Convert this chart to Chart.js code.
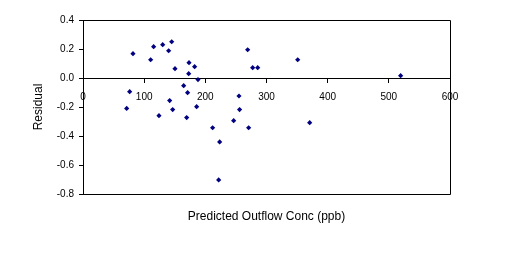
<!DOCTYPE html>
<html>
<head>
<meta charset="utf-8">
<title>Residual plot</title>
<script src="https://cdn.jsdelivr.net/npm/chart.js@4/dist/chart.umd.min.js"></script>
<style>
  html, body { margin: 0; padding: 0; background: #fff; }
  #residualChart { display: block; }
</style>
</head>
<body>
<canvas id="residualChart" width="511" height="257"></canvas>
<script>
// ===========================
// DATA
// ===========================
const predictedConc = [
  81.7, 115.5, 130.3, 145.0, 140.0, 110.6, 150.4, 173.3, 182.5, 172.8, 188.0,
  76.3, 71.4, 141.7, 146.6, 124.2, 164.6, 171.0, 169.5, 185.8,
  211.9, 246.3, 270.8, 255.0, 256.0, 269.2, 277.4, 285.6, 351.0, 370.6,
  519.3, 223.4, 221.8
];
const residuals = [
  0.168, 0.216, 0.23, 0.25, 0.188, 0.126, 0.064, 0.106, 0.078, 0.03, -0.011,
  -0.094, -0.21, -0.156, -0.218, -0.26, -0.053, -0.101, -0.273, -0.198,
  -0.343, -0.294, -0.343, -0.124, -0.218, 0.195, 0.071, 0.071, 0.126, -0.308,
  0.016, -0.441, -0.703
];
const xTicks = [0, 100, 200, 300, 400, 500, 600];
const yTicks = [-0.8, -0.6, -0.4, -0.2, 0.0, 0.2, 0.4];
const xTitle = 'Predicted Outflow Conc (ppb)';
const yTitle = 'Residual';

// ===========================
// PLOT FRAME (top / right / bottom lines)
// ===========================
const frame = {
  id: 'frame',
  afterDraw(chart) {
    const { ctx, chartArea: a } = chart;
    ctx.save();
    ctx.strokeStyle = '#000';
    ctx.lineWidth = 1;
    ctx.beginPath();
    ctx.moveTo(a.left, a.top + 0.5);
    ctx.lineTo(a.right + 0.5, a.top + 0.5);
    ctx.lineTo(a.right + 0.5, a.bottom + 0.5);
    ctx.lineTo(a.left, a.bottom + 0.5);
    ctx.stroke();
    ctx.restore();
  }
};

const tickFont = { family: 'Liberation Sans', size: 10 };
const titleFont = { family: 'Liberation Sans', size: 12 };

new Chart(document.getElementById('residualChart'), {
  type: 'scatter',
  data: {
    datasets: [{
      data: predictedConc.map((x, i) => ({ x, y: residuals[i] })),
      backgroundColor: '#000080',
      borderWidth: 0,
      pointStyle: 'rectRot',
      pointRadius: 2.6
    }]
  },
  options: {
    responsive: false,
    animation: false,
    layout: { padding: { left: 0, top: 20, right: 61, bottom: 0 } },
    plugins: { legend: { display: false }, tooltip: { enabled: false } },
    scales: {
      x: {
        type: 'linear',
        position: { y: 0 },
        min: 0,
        max: 600,
        afterBuildTicks: s => { s.ticks = xTicks.map(v => ({ value: v })); },
        grid: { drawOnChartArea: false, drawTicks: true, tickLength: 4, color: '#000' },
        border: { display: true, color: '#000', width: 1 },
        ticks: { color: '#000', font: tickFont, padding: 9, maxRotation: 0 }
      },
      xt: {
        type: 'linear',
        axis: 'x',
        position: 'bottom',
        grid: { display: false },
        border: { display: false },
        ticks: { display: false },
        title: { display: true, text: xTitle, color: '#000', font: titleFont, padding: { top: 0, bottom: 33 } },
        afterFit: s => { s.height = 63; }
      },
      y: {
        type: 'linear',
        position: 'left',
        min: -0.8,
        max: 0.4,
        afterBuildTicks: s => { s.ticks = yTicks.map(v => ({ value: v })); },
        grid: { drawOnChartArea: false, drawTicks: true, tickLength: 4, color: '#000' },
        border: { display: true, color: '#000', width: 1 },
        ticks: { color: '#000', font: tickFont, padding: 5, callback: v => v.toFixed(1) },
        title: { display: true, text: yTitle, color: '#000', font: titleFont, padding: { top: 31, bottom: 0 } },
        afterFit: s => { s.width = 83; }
      }
    }
  },
  plugins: [frame]
});
</script>
</body>
</html>
